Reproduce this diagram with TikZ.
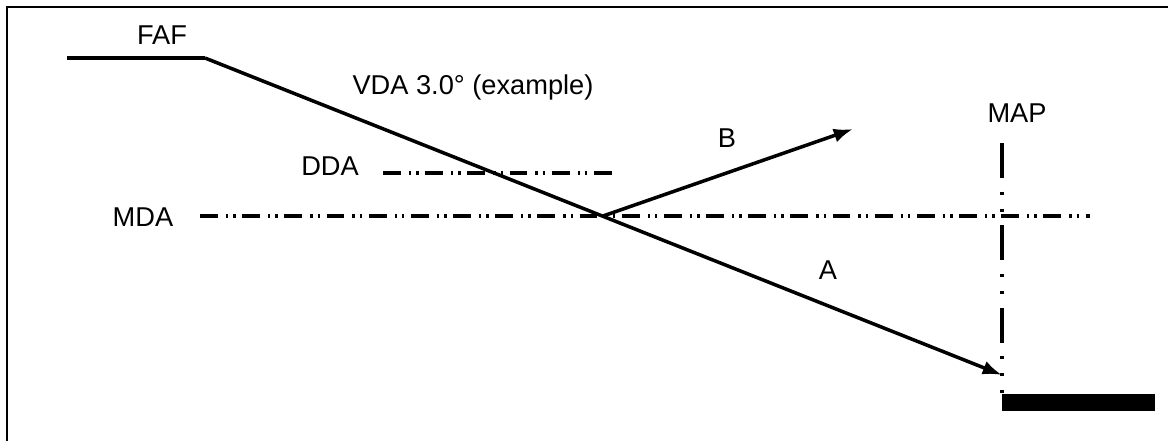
\documentclass[tikz,border=0pt]{standalone}
\usepackage{fontspec}
\setmainfont{Liberation Sans}
\usetikzlibrary{arrows.meta}

\begin{document}
\begin{tikzpicture}[x=0.02cm, y=-0.02cm,
        lbl/.style={font=\fontsize{15.5}{18}\selectfont, inner sep=0pt, anchor=base},
        level/.style={line width=2.8pt},
        glide/.style={line width=2pt},
        arr/.style={-{Latex[length=11pt,width=8pt]}, line width=2pt},
        alt/.style={line width=2.3pt,
                    dash pattern=on 10.2pt off 4.5pt on 1.4pt off 2.8pt on 1.4pt off 3.7pt},
        mapline/.style={line width=2.3pt,
                    dash pattern=on 19.8pt off 7.9pt on 1.7pt off 7.9pt on 1.7pt off 7.9pt}]
      \useasboundingbox (0,0) rectangle (1168,440);
      \clip (0,0) rectangle (1168,440);
      \draw[line width=1.4pt] (7,7) rectangle (1190,460);
      % points of the approach
      \coordinate (start) at (67,58);
      \coordinate (faf) at (205,58);
      \coordinate (cross) at (603,216);
      \coordinate (tipA) at (1002,375);
      \coordinate (tipB) at (853,129);
      \coordinate (mdaL) at (200,216);
      \coordinate (mdaR) at (1090,216);
      \coordinate (ddaL) at (383,173);
      \coordinate (ddaR) at (619,173);
      \coordinate (mapT) at (1002,143);
      \coordinate (mapB) at (1002,393);
      % labels
      \node[lbl] (fafl) at (162,44) {FAF};
      \node[lbl] (vda) at (473,94) {VDA 3.0° (example)};
      \node[lbl] (b) at (727,147) {B};
      \node[lbl] (map) at (1017,122) {MAP};
      \node[lbl] (dda) at (330,175) {DDA};
      \node[lbl] (mda) at (143,226) {MDA};
      \node[lbl] (a) at (828,279) {A};
      % altitude lines
      \draw[alt] (mdaL) -- (mdaR);
      \draw[alt] (ddaL) -- (ddaR);
      \draw[mapline] (mapT) -- (mapB);
      % path
      \draw[level] (start) -- (faf);
      \draw[arr] (faf) -- (tipA);
      \draw[arr] (cross) -- (tipB);
      \fill (1002,394) rectangle (1155,411);
    \end{tikzpicture}
\end{document}
